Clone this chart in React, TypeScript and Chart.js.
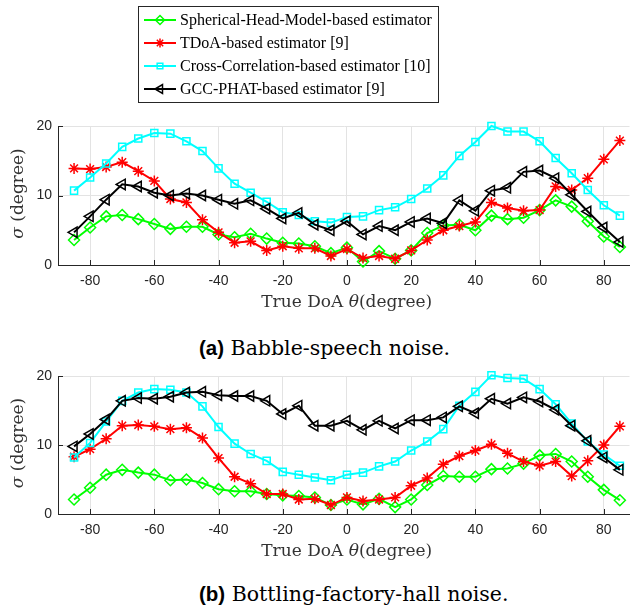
import React, { useEffect, useRef } from 'react';
import { Chart, registerables } from 'chart.js';
import { drawPoint } from 'chart.js/helpers';

Chart.register(...registerables);

// True direction of arrival (degrees)
const doa = [-85, -80, -75, -70, -65, -60, -55, -50, -45, -40, -35, -30, -25, -20, -15, -10, -5,
  0, 5, 10, 15, 20, 25, 30, 35, 40, 45, 50, 55, 60, 65, 70, 75, 80, 85];
const xTicks = [-80, -60, -40, -20, 0, 20, 40, 60, 80];
const yTicks = [0, 10, 20];

const seriesNames = [
  'Spherical-Head-Model-based estimator',
  'TDoA-based estimator [9]',
  'Cross-Correlation-based estimator [10]',
  'GCC-PHAT-based estimator [9]',
];

// axis titles, split so the symbol can be set in italics
const xTitleParts = [
  { text: 'True DoA ', italic: false },
  { text: 'θ', italic: true },
  { text: '(degree)', italic: false },
];
const yTitleParts = [
  { text: 'σ', italic: true },
  { text: ' (degree)', italic: false },
];

// (a) Babble-speech noise: standard deviation of the estimate (degree)
const babbleSHM = [3.6, 5.4, 7.0, 7.2, 6.6, 5.9, 5.2, 5.5, 5.5, 4.4, 4.0, 4.5, 3.8, 3.2, 3.1, 2.7, 1.7,
  2.5, 0.5, 2.0, 0.9, 2.1, 4.6, 5.7, 5.8, 5.0, 7.1, 6.6, 6.8, 7.9, 9.3, 8.4, 6.3, 4.1, 2.6];
const babbleTDoA = [13.9, 13.8, 14.1, 14.8, 13.5, 12.1, 9.5, 9.0, 6.5, 4.7, 3.2, 3.4, 2.1, 2.7, 2.4, 2.4, 1.3,
  2.3, 1.0, 1.3, 0.9, 2.1, 3.6, 5.0, 5.6, 6.2, 9.0, 8.2, 7.8, 7.9, 11.3, 10.8, 12.5, 15.2, 17.9];
const babbleCC = [10.7, 12.6, 14.6, 17.0, 18.2, 19.0, 18.9, 17.8, 16.4, 13.9, 11.7, 10.4, 9.1, 7.6, 7.2, 6.3, 6.1,
  6.9, 7.0, 7.9, 8.3, 9.5, 11.0, 12.9, 15.7, 17.7, 20.0, 19.2, 19.2, 17.8, 15.4, 13.2, 10.8, 8.6, 7.1];
const babbleGCC = [4.7, 7.0, 9.4, 11.6, 11.3, 10.4, 10.0, 10.3, 10.0, 9.4, 8.8, 9.3, 8.1, 6.7, 7.5, 5.8, 5.0,
  6.3, 4.4, 5.6, 5.0, 6.2, 6.7, 6.0, 9.3, 7.8, 10.7, 11.1, 13.4, 13.6, 12.5, 10.1, 7.7, 5.4, 3.3];

// (b) Bottling-factory-hall noise
const bottlingSHM = [2.1, 3.8, 5.7, 6.4, 6.0, 5.7, 4.9, 5.0, 4.5, 3.6, 3.3, 3.3, 2.9, 2.7, 2.6, 2.4, 1.3,
  2.1, 1.4, 2.2, 1.0, 2.1, 4.2, 5.5, 5.4, 5.4, 6.5, 6.6, 7.3, 8.5, 8.7, 7.6, 5.4, 3.5, 2.0];
const bottlingTDoA = [8.3, 9.4, 10.9, 12.8, 12.9, 12.7, 12.3, 12.5, 11.0, 8.1, 5.4, 4.4, 2.9, 2.9, 2.1, 2.2, 1.3,
  2.4, 1.9, 2.1, 2.4, 4.1, 5.2, 7.2, 8.4, 9.2, 10.1, 8.8, 7.6, 7.0, 7.6, 5.5, 7.7, 10.0, 12.7];
const bottlingCC = [8.2, 10.3, 13.4, 16.4, 17.6, 18.1, 18.0, 17.6, 15.6, 12.6, 10.2, 8.7, 7.7, 6.1, 5.7, 5.3, 4.9,
  5.7, 6.0, 6.9, 7.6, 9.2, 10.5, 12.3, 15.7, 17.7, 20.1, 19.7, 19.6, 18.1, 15.9, 13.1, 10.5, 8.6, 7.0];
const bottlingGCC = [9.8, 11.6, 13.7, 16.4, 16.8, 16.7, 17.0, 17.6, 17.7, 17.2, 17.1, 17.1, 16.4, 14.5, 15.7, 12.8, 12.8,
  13.5, 12.2, 13.5, 12.4, 13.6, 13.6, 14.0, 15.6, 14.6, 16.7, 16.0, 16.9, 16.3, 15.1, 12.8, 10.6, 8.2, 6.4];

const AXIS_COLOR = '#262626';
const GRID_COLOR = '#e3e3e3';
const TITLE_COLOR = '#333333';
const W = 637;

// marker / line styles: green diamonds, red asterisks, cyan squares, black left triangles
const seriesStyles = [
  { color: '#00ff00', pointStyle: 'rectRot', radius: 5.5, rotation: 0, order: 4 },
  { color: '#ff0000', pointStyle: 'star', radius: 5.5, rotation: 0, order: 3 },
  { color: '#00ffff', pointStyle: 'rect', radius: 5, rotation: 0, order: 2 },
  { color: '#000000', pointStyle: 'triangle', radius: 6, rotation: -90, order: 1 },
];

const innerTicks = {
  id: 'innerTicks',
  beforeDatasetsDraw(chart: any) {
    const { ctx, chartArea: a, scales } = chart;
    ctx.save();
    ctx.strokeStyle = AXIS_COLOR;
    ctx.lineWidth = 1;
    ctx.beginPath();
    xTicks.forEach((v) => {
      const px = Math.round(scales.x.getPixelForValue(v)) + 0.5;
      ctx.moveTo(px, a.bottom);
      ctx.lineTo(px, a.bottom - 5);
    });
    yTicks.forEach((v) => {
      const py = Math.round(scales.y.getPixelForValue(v)) + 0.5;
      ctx.moveTo(a.left, py);
      ctx.lineTo(a.left + 5, py);
    });
    ctx.stroke();
    ctx.restore();
  },
};

function partFont(italic: boolean) {
  return (italic ? 'italic ' : '') + '17px "DejaVu Serif"';
}

// draws a run of text pieces centred on (0, 0) of the current transform
function drawParts(ctx: CanvasRenderingContext2D, parts: { text: string; italic: boolean }[]) {
  const widths = parts.map((p) => {
    ctx.font = partFont(p.italic);
    return ctx.measureText(p.text).width;
  });
  let x = -widths.reduce((a, b) => a + b, 0) / 2;
  parts.forEach((p, i) => {
    ctx.font = partFont(p.italic);
    ctx.fillText(p.text, x, 0);
    x += widths[i];
  });
}

const axisTitles = {
  id: 'axisTitles',
  afterDraw(chart: any) {
    const { ctx, chartArea: a } = chart;
    ctx.save();
    ctx.fillStyle = TITLE_COLOR;
    ctx.textAlign = 'left';
    ctx.textBaseline = 'middle';
    ctx.save();
    ctx.translate((a.left + a.right) / 2 + 3, a.bottom + 38);
    drawParts(ctx, xTitleParts);
    ctx.restore();
    ctx.save();
    ctx.translate(19, (a.top + a.bottom) / 2 - 2);
    ctx.rotate(-Math.PI / 2);
    drawParts(ctx, yTitleParts);
    ctx.restore();
    ctx.restore();
  },
};

const boxLegend = {
  id: 'boxLegend',
  afterDraw(chart: any) {
    const ctx = chart.ctx;
    const left = 138.5, top = 6.5, width = 300, height = 96;
    ctx.save();
    ctx.fillStyle = '#ffffff';
    ctx.fillRect(left, top, width, height);
    ctx.strokeStyle = AXIS_COLOR;
    ctx.lineWidth = 1;
    ctx.strokeRect(left, top, width, height);
    chart.data.datasets.forEach((ds: any, i: number) => {
      const yy = 20 + i * 23;
      ctx.strokeStyle = ds.borderColor;
      ctx.lineWidth = ds.borderWidth;
      ctx.beginPath();
      ctx.moveTo(144, yy);
      ctx.lineTo(176, yy);
      ctx.stroke();
      ctx.fillStyle = 'rgba(0,0,0,0)';
      ctx.lineWidth = ds.pointBorderWidth;
      drawPoint(ctx, {
        pointStyle: ds.pointStyle,
        rotation: ds.pointRotation,
        radius: ds.pointRadius - 1,
        borderWidth: ds.pointBorderWidth,
      }, 160, yy);
      ctx.fillStyle = '#000000';
      ctx.font = '16px "Liberation Serif"';
      ctx.textAlign = 'left';
      ctx.textBaseline = 'middle';
      ctx.fillText(ds.label, 180, yy + 1);
    });
    ctx.restore();
  },
};

function buildConfig(series: number[][], height: number, areaTop: number, areaBottom: number, withLegend: boolean) {
  const datasets = series.map((vals, i) => {
    const s = seriesStyles[i];
    return {
      label: seriesNames[i],
      data: doa.map((d, j) => ({ x: d, y: vals[j] })),
      borderColor: s.color,
      borderWidth: 2,
      pointStyle: s.pointStyle,
      pointRadius: s.radius,
      pointRotation: s.rotation,
      pointBorderColor: s.color,
      pointBackgroundColor: 'rgba(0,0,0,0)',
      pointBorderWidth: 1.5,
      tension: 0,
      clip: false,
      order: s.order,
    };
  });
  const tickFont = { family: '"Liberation Sans"', size: 14 };
  return {
    type: 'line',
    data: { datasets },
    options: {
      animation: false,
      responsive: false,
      devicePixelRatio: 1,
      layout: { padding: { top: areaTop, right: 1, left: 0, bottom: 0 } },
      plugins: { legend: { display: false }, tooltip: { enabled: false } },
      scales: {
        x: {
          type: 'linear',
          min: -90,
          max: 88,
          afterBuildTicks: (s: any) => { s.ticks = xTicks.map((v) => ({ value: v })); },
          afterFit: (s: any) => { s.height = height - areaBottom; },
          grid: { color: GRID_COLOR, lineWidth: 1, drawTicks: false },
          border: { display: true, color: AXIS_COLOR, width: 1 },
          ticks: { color: AXIS_COLOR, font: tickFont, padding: 8, maxRotation: 0 },
          title: { display: false },
        },
        y: {
          min: 0,
          max: 20,
          afterBuildTicks: (s: any) => { s.ticks = yTicks.map((v) => ({ value: v })); },
          afterFit: (s: any) => { s.width = 58; },
          grid: { color: GRID_COLOR, lineWidth: 1, drawTicks: false },
          border: { display: true, color: AXIS_COLOR, width: 1 },
          ticks: { color: AXIS_COLOR, font: tickFont, padding: 6 },
          title: { display: false },
        },
      },
    },
    plugins: withLegend ? [innerTicks, axisTitles, boxLegend] : [innerTicks, axisTitles],
  };
}

function Panel(props: { series: number[][]; top: number; height: number; areaTop: number; areaBottom: number; withLegend: boolean }) {
  const ref = useRef<HTMLCanvasElement | null>(null);
  useEffect(() => {
    if (!ref.current) return;
    const chart = new Chart(ref.current, buildConfig(props.series, props.height, props.areaTop, props.areaBottom, props.withLegend) as any);
    return () => chart.destroy();
  }, []);
  return (
    <canvas
      ref={ref}
      width={W}
      height={props.height}
      style={{ position: 'absolute', left: 0, top: props.top, width: W, height: props.height }}
    />
  );
}

const captionStyle: React.CSSProperties = {
  position: 'absolute',
  left: 199,
  fontFamily: '"DejaVu Serif"',
  fontSize: 20.5,
  lineHeight: '24px',
  color: '#000000',
  whiteSpace: 'nowrap',
};
const tagStyle: React.CSSProperties = { fontFamily: '"Liberation Sans"', fontWeight: 'bold' };

export default function App() {
  return (
    <div style={{ position: 'absolute', left: 0, top: 0, width: W, height: 607, background: '#ffffff', overflow: 'hidden' }}>
      <Panel series={[babbleSHM, babbleTDoA, babbleCC, babbleGCC]} top={0} height={320} areaTop={126} areaBottom={265} withLegend={true} />
      <div style={{ ...captionStyle, top: 336 }}>
        <span style={tagStyle}>(a)</span> Babble-speech noise.
      </div>
      <Panel series={[bottlingSHM, bottlingTDoA, bottlingCC, bottlingGCC]} top={360} height={210} areaTop={16} areaBottom={154} withLegend={false} />
      <div style={{ ...captionStyle, top: 582 }}>
        <span style={tagStyle}>(b)</span> Bottling-factory-hall noise.
      </div>
    </div>
  );
}
